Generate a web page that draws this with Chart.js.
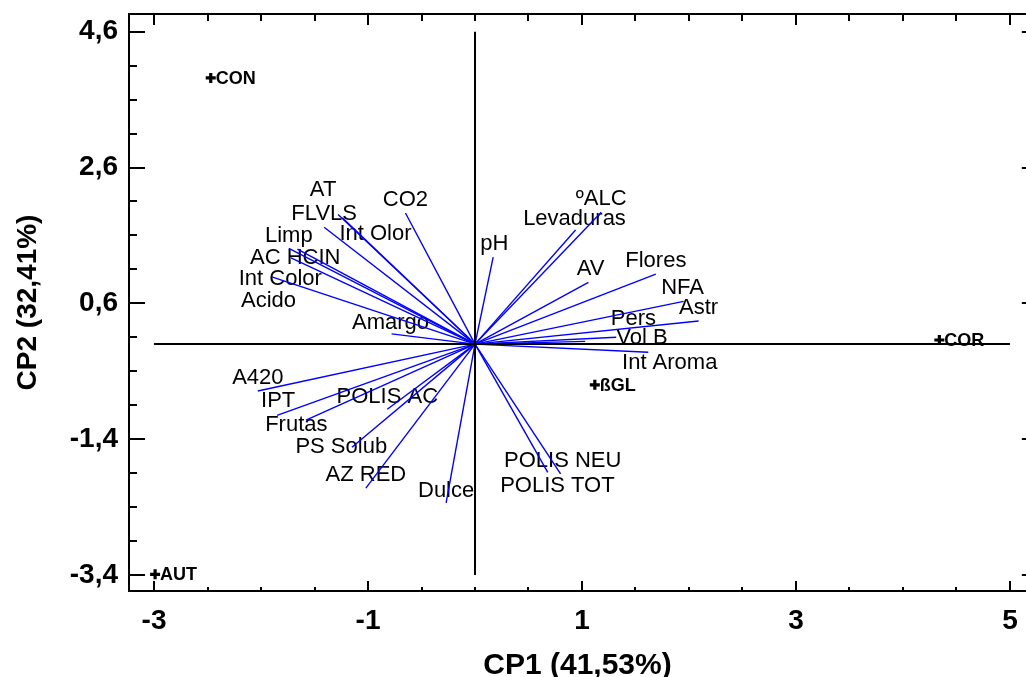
<!DOCTYPE html>
<html lang="es">
<head>
  <meta charset="UTF-8">
  <title>Biplot CP1 - CP2</title>
  <script src="https://cdn.jsdelivr.net/npm/chart.js"></script>
  <style>
    html, body { margin: 0; padding: 0; background: #fff; overflow: hidden; }
    #biplot { display: block; }
  </style>
</head>
<body>
  <canvas id="biplot" width="1026" height="677"></canvas>

  <script>
    // variables (vectores de carga)
    const varNames = ['AT', 'FLVLS', 'Int Olor', 'CO2', 'Limp', 'AC HCIN', 'Int Color', 'Acido', 'Amargo', 'pH',
      'ºALC', 'Levaduras', 'AV', 'Flores', 'NFA', 'Astr', 'Pers', 'Vol B', 'Int Aroma',
      'A420', 'IPT', 'Frutas', 'POLIS AC', 'PS Solub', 'AZ RED', 'Dulce', 'POLIS NEU', 'POLIS TOT'];
    const varX = [-1.28, -1.41, -1.24, -0.65, -1.74, -1.66, -1.72, -1.90, -0.78, 0.17,
      1.18, 0.94, 1.06, 1.69, 1.95, 2.09, 1.32, 1.03, 1.62,
      -2.03, -1.85, -1.58, -0.82, -1.15, -1.02, -0.27, 0.68, 0.80];
    const varY = [1.91, 1.72, 1.86, 1.93, 1.41, 1.40, 1.27, 0.99, 0.15, 1.28,
      1.94, 1.68, 0.91, 1.03, 0.63, 0.34, 0.10, 0.04, -0.12,
      -0.69, -1.05, -1.12, -0.96, -1.52, -2.12, -2.34, -1.89, -1.91];
    // donde va el texto de cada variable
    const labelX = [-1.42, -1.41, -0.93, -0.65, -1.74, -1.68, -1.82, -1.93, -0.79, 0.18,
      1.18, 0.93, 1.08, 1.69, 1.94, 2.09, 1.48, 1.56, 1.82,
      -2.03, -1.84, -1.67, -0.82, -1.25, -1.02, -0.27, 0.82, 0.77];
    const labelY = [2.27, 1.91, 1.62, 2.12, 1.59, 1.27, 0.96, 0.63, 0.31, 1.47,
      2.14, 1.84, 1.10, 1.22, 0.82, 0.53, 0.37, 0.09, -0.28,
      -0.50, -0.84, -1.19, -0.78, -1.52, -1.93, -2.16, -1.72, -2.09];

    // observaciones
    const obsNames = ['CON', 'AUT', 'COR', 'ßGL'];
    const obsX = [-2.47, -2.99, 4.34, 1.12];
    const obsY = [3.92, -3.39, 0.06, -0.60];

    const xTickLabels = [-3, -1, 1, 3, 5];
    const yTickLabels = [-3.4, -1.4, 0.6, 2.6, 4.6];
    const xRange = [-3.234, 5.15];
    const yRange = [-3.636, 4.861];
    const xFrameEnd = 5.27; // el marco derecho queda fuera de la imagen

    const FONT = "'Liberation Sans', Arial, sans-serif";

    function minorTicks(list) {
      const out = [];
      for (let v = list[0]; v <= list[list.length - 1] + 1e-9; v += 0.5) out.push(Math.round(v * 10) / 10);
      return out;
    }

    const datasets = [];
    // ejes en cero
    datasets.push({
      data: [{ x: xTickLabels[0], y: 0 }, { x: xTickLabels[xTickLabels.length - 1], y: 0 }],
      showLine: true, borderColor: '#000', borderWidth: 2, pointRadius: 0
    });
    datasets.push({
      data: [{ x: 0, y: yTickLabels[0] }, { x: 0, y: yTickLabels[yTickLabels.length - 1] }],
      showLine: true, borderColor: '#000', borderWidth: 2, pointRadius: 0
    });
    varNames.forEach((n, i) => {
      datasets.push({
        label: n,
        data: [{ x: 0, y: 0 }, { x: varX[i], y: varY[i] }],
        showLine: true, borderColor: '#0000ff', borderWidth: 1.4, pointRadius: 0
      });
    });
    datasets.push({
      data: obsX.map((x, i) => ({ x, y: obsY[i] })),
      pointStyle: 'cross', pointRadius: 5, borderWidth: 3.2, borderColor: '#000', backgroundColor: '#000'
    });

    const textPlugin = {
      id: 'textos',
      beforeDatasetsDraw(chart) {
        const { ctx, scales: { x, y } } = chart;
        ctx.save();
        ctx.fillStyle = '#000';
        ctx.textAlign = 'center';
        ctx.textBaseline = 'middle';
        ctx.font = '22px ' + FONT;
        varNames.forEach((n, i) => {
          ctx.fillText(n, x.getPixelForValue(labelX[i]), y.getPixelForValue(labelY[i]));
        });
        ctx.textAlign = 'left';
        ctx.font = 'bold 18px ' + FONT;
        obsNames.forEach((n, i) => {
          ctx.fillText(n, x.getPixelForValue(obsX[i]) + 5, y.getPixelForValue(obsY[i]) + 1);
        });
        ctx.restore();
      },
      afterDraw(chart) {
        const { ctx, chartArea: a, scales: { x, y } } = chart;
        const right = x.getPixelForValue(xFrameEnd);
        ctx.save();
        ctx.strokeStyle = '#000';
        ctx.lineWidth = 2;
        ctx.beginPath();
        ctx.moveTo(a.left - 1, a.top);
        ctx.lineTo(right, a.top);
        ctx.moveTo(a.right, a.bottom);
        ctx.lineTo(right, a.bottom);
        // marcas hacia dentro
        minorTicks(xTickLabels).forEach(v => {
          const px = Math.round(x.getPixelForValue(v));
          const major = xTickLabels.includes(v);
          ctx.moveTo(px, a.bottom);
          ctx.lineTo(px, a.bottom - (major ? 10 : 4));
          ctx.moveTo(px, a.top);
          ctx.lineTo(px, a.top + (major ? 11 : 7));
        });
        minorTicks(yTickLabels).forEach(v => {
          const py = Math.round(y.getPixelForValue(v));
          const major = yTickLabels.includes(v);
          ctx.moveTo(a.left, py);
          ctx.lineTo(a.left + (major ? 16 : 8), py);
          ctx.moveTo(right, py);
          ctx.lineTo(right - (major ? 17 : 8), py);
        });
        ctx.stroke();
        ctx.restore();
      }
    };

    new Chart(document.getElementById('biplot'), {
      type: 'scatter',
      data: { datasets },
      options: {
        responsive: false,
        animation: false,
        events: [],
        layout: { autoPadding: false, padding: { top: 14, right: 0, left: 0, bottom: 0 } },
        plugins: { legend: { display: false }, tooltip: { enabled: false } },
        scales: {
          x: {
            type: 'linear', position: 'bottom', min: xRange[0], max: xRange[1],
            grid: { display: false, drawTicks: false },
            border: { display: true, color: '#000', width: 2 },
            afterBuildTicks: s => { s.ticks = [xRange[0], ...xTickLabels, xRange[1]].map(v => ({ value: v })); },
            afterFit: s => { s.height = 86; s.paddingLeft = 0; s.paddingRight = 0; },
            ticks: {
              autoSkip: false, maxRotation: 0, padding: 13, color: '#000',
              font: { family: FONT, size: 28, weight: 'bold' },
              callback: v => xTickLabels.includes(v) ? String(v) : null
            },
            title: {
              display: true, text: 'CP1 (41,53%)', color: '#000',
              font: { family: FONT, size: 30, weight: 'bold', lineHeight: 1 },
              padding: { top: 0, bottom: -4 }
            }
          },
          y: {
            type: 'linear', position: 'left', min: yRange[0], max: yRange[1],
            grid: { display: false, drawTicks: false },
            border: { display: true, color: '#000', width: 2 },
            afterBuildTicks: s => { s.ticks = [yRange[0], ...yTickLabels, yRange[1]].map(v => ({ value: v })); },
            afterFit: s => { s.width = 129; s.paddingTop = 0; s.paddingBottom = 0; },
            ticks: {
              autoSkip: false, padding: 11, color: '#000',
              font: { family: FONT, size: 28, weight: 'bold' },
              callback: v => yTickLabels.includes(v) ? v.toFixed(1).replace('.', ',') : null
            },
            title: {
              display: true, text: 'CP2 (32,41%)', color: '#000',
              font: { family: FONT, size: 28, weight: 'bold', lineHeight: 1 },
              padding: { top: 14, bottom: 0 }
            }
          }
        }
      },
      plugins: [textPlugin]
    });
  </script>
</body>
</html>
